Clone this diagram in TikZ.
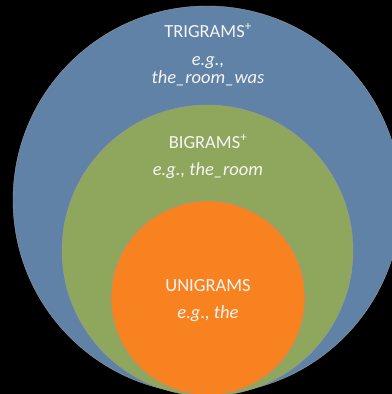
\documentclass[tikz,border=0pt]{standalone}
\usepackage{fontspec}
\setmainfont{Carlito}
\definecolor{triblue}{HTML}{6082A6}
\definecolor{bigreen}{HTML}{8FA75C}
\definecolor{uniorange}{HTML}{F7821F}
\tikzset{
  ring/.style={draw=black!40, line width=0.4bp},
  lab/.style={anchor=base, text=white!96!black, inner sep=0pt, font=\fontsize{18.5bp}{18bp}\selectfont},
  ex/.style={lab, font=\fontsize{18.5bp}{18bp}\selectfont\itshape, align=center}
}
\begin{document}
\begin{tikzpicture}[x=1bp,y=1bp]
\useasboundingbox (0,0) rectangle (392,394);
\fill[black] (0,0) rectangle (392,394);
\begin{scope}
\clip (0,0) rectangle (392,394);
\path[fill=triblue, ring] (207,194) circle[radius=194];
\path[fill=bigreen, ring] (207.5,143.5) circle[radius=145.5];
\path[fill=uniorange, ring] (208,96) circle[radius=97];
\end{scope}
\node[lab] (tri) at (208,357) {TRIGRAMS\textsuperscript{+}};
\node[ex] (triexa) at (208,329) {e.g.,};
\node[ex] (triexb) at (208,311) {the\_room\_was};
\node[lab] (bi) at (208,246) {BIGRAMS\textsuperscript{+}};
\node[ex] (biex) at (208,219) {e.g., the\_room};
\node[lab] (uni) at (208,103) {UNIGRAMS};
\node[ex] (uniex) at (208,76) {e.g., the};
\end{tikzpicture}
\end{document}
